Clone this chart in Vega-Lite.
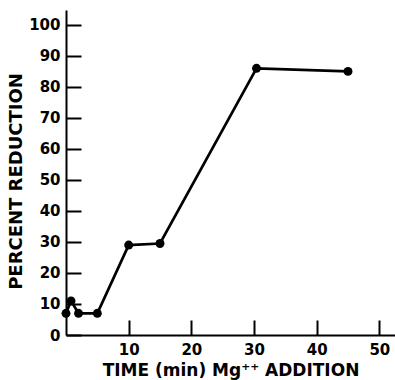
{
  "$schema": "https://vega.github.io/schema/vega-lite/v6.json",
  "autosize": "none",
  "width": 329,
  "height": 325,
  "padding": {"left": 66, "top": 10, "right": 0, "bottom": 45},
  "background": "white",
  "config": {
    "view": {"stroke": null},
    "axis": {
      "labelFont": "DejaVu Sans",
      "labelFontWeight": "bold",
      "labelFontSize": 15,
      "labelColor": "black",
      "titleFont": "DejaVu Sans",
      "titleFontWeight": "bold",
      "titleFontSize": 17,
      "titleColor": "black",
      "domainColor": "black",
      "domainWidth": 2,
      "tickColor": "black",
      "tickWidth": 2,
      "grid": false
    }
  },
  "data": {
    "values": [
      {"t": 0, "r": 7},
      {"t": 0.8, "r": 11},
      {"t": 2, "r": 7},
      {"t": 5, "r": 7},
      {"t": 10, "r": 29},
      {"t": 15, "r": 29.5},
      {"t": 30.4, "r": 86},
      {"t": 45, "r": 85}
    ]
  },
  "encoding": {
    "x": {"field": "t", "type": "quantitative", "scale": {"domain": [0, 52.5], "nice": false},
      "axis": {"values": [10, 20, 30, 40, 50], "title": "TIME (min) Mg⁺⁺ ADDITION", "tickSize": -15, "labelPadding": 22, "titlePadding": 5, "labelOverlap": false, "labelFlush": false, "labelBound": false}},
    "y": {"field": "r", "type": "quantitative", "scale": {"domain": [0, 104.8], "nice": false},
      "axis": {"values": [0, 10, 20, 30, 40, 50, 60, 70, 80, 90, 100], "tickCount": 11, "title": "PERCENT REDUCTION", "titleFontSize": 18, "titleY": 171, "tickSize": -15, "labelPadding": 21, "titlePadding": 3, "labelOverlap": false, "labelFlush": false, "labelBound": false}}
  },
  "layer": [
    {
      "mark": {"type": "line", "color": "black", "strokeWidth": 2.7}
    },
    {
      "mark": {"type": "point", "filled": true, "color": "black", "size": 80, "opacity": 1}
    }
  ]
}
